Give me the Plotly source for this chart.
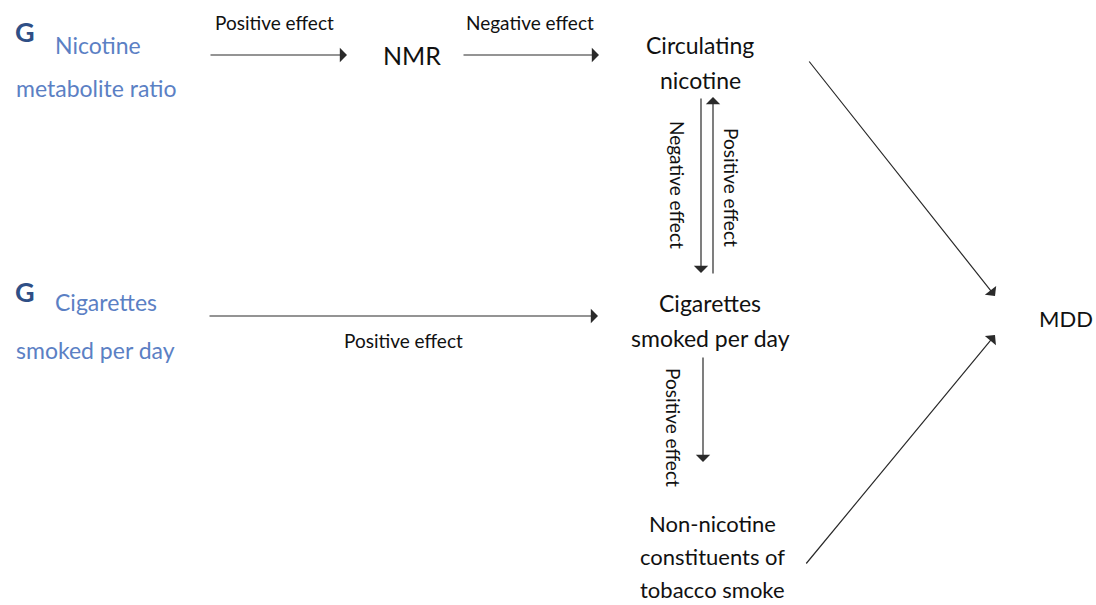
import plotly.graph_objects as go

W, H = 1096, 605
FONT = "Lato, 'Open Sans', sans-serif"

# Node labels
node_text = ["NMR", "Circulating<br>nicotine", "Cigarettes<br>smoked per day",
             "Non-nicotine<br>constituents of<br>tobacco smoke", "MDD"]
node_x = [412, 700, 710, 712, 1066]
node_y = [55, 62, 320, 556, 318]
node_size = [25, 23, 23, 22, 22]
node_gap = [35, 35, 35, 33, 35]

# Genetic instrument labels
gene_text = ["Nicotine", "metabolite ratio", "Cigarettes", "smoked per day"]
gene_x = [53, 14, 53, 14]
gene_y = [45, 88, 302, 350]
g_y = [31, 291]

# Edges: (x0, y0) -> (x1, y1), label
edge_x0 = [209, 462, 208, 701, 713, 703, 808, 805]
edge_y0 = [55, 55, 316, 97, 275, 356, 60, 565]
edge_x1 = [347, 599, 598, 701, 713, 703, 995, 995]
edge_y1 = [55, 55, 316, 273, 97, 462, 296, 335]

edge_labels = ["Positive effect", "Negative effect", "Positive effect",
               "Negative effect", "Positive effect", "Positive effect"]
label_x = [274, 530, 403, 678, 732, 674]
label_y = [22, 22, 340, 185, 187, 427]
label_angle = [0, 0, 0, 90, 90, 90]

fig = go.Figure()
fig.add_trace(go.Scatter(x=[0, W], y=[0, H], mode="markers",
                         marker=dict(opacity=0), hoverinfo="skip", showlegend=False))

ann = []
for t, x, y, s, g in zip(node_text, node_x, node_y, node_size, node_gap):
    lines = t.split("<br>")
    n = len(lines)
    for i, ln in enumerate(lines):
        ann.append(dict(x=x, y=y + (i - (n - 1) / 2) * g, text=ln,
                        showarrow=False, xref="x", yref="y", borderpad=0,
                        font=dict(family=FONT, size=s, color="#111111"),
                        xanchor="center", yanchor="middle", align="center"))
for t, x, y in zip(gene_text, gene_x, gene_y):
    ann.append(dict(x=x, y=y, text=t, showarrow=False, xref="x", yref="y",
                    font=dict(family=FONT, size=23, color="#5b80c4"),
                    xanchor="left", yanchor="middle"))
for y in g_y:
    ann.append(dict(x=13, y=y, text="<b>G</b>", showarrow=False, xref="x", yref="y",
                    font=dict(family=FONT, size=27, color="#2f4f86"),
                    xanchor="left", yanchor="middle"))
for x0, y0, x1, y1 in zip(edge_x0, edge_y0, edge_x1, edge_y1):
    ann.append(dict(x=x1, y=y1, ax=x0, ay=y0, xref="x", yref="y", axref="x", ayref="y",
                    text="", showarrow=True, arrowhead=1, arrowsize=2,
                    arrowwidth=1.2, arrowcolor="#2a2a2a"))
for t, x, y, a in zip(edge_labels, label_x, label_y, label_angle):
    ann.append(dict(x=x, y=y, text=t, showarrow=False, xref="x", yref="y",
                    textangle=a, font=dict(family=FONT, size=19, color="#111111"),
                    xanchor="center", yanchor="middle"))

fig.update_layout(
    width=W, height=H, margin=dict(l=0, r=0, t=0, b=0),
    paper_bgcolor="white", plot_bgcolor="white",
    xaxis=dict(range=[0, W], visible=False, fixedrange=True),
    yaxis=dict(range=[H, 0], visible=False, fixedrange=True),
    annotations=ann, showlegend=False,
)
fig.write_html("out.html", config={"displayModeBar": False},
               post_script="document.body.style.margin='0';document.body.style.overflow='hidden';")
